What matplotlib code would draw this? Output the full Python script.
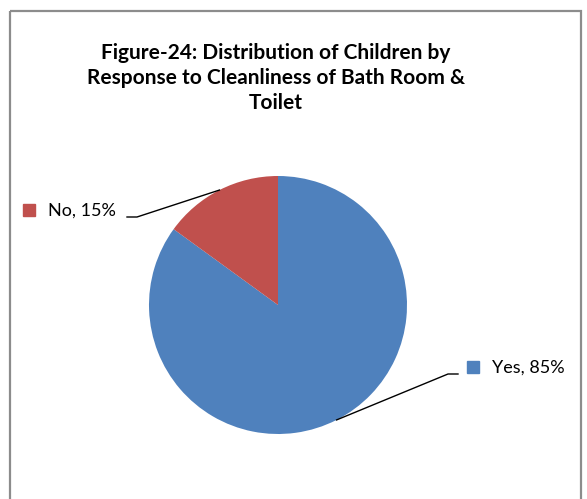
import numpy as np
import matplotlib.pyplot as plt
from matplotlib.patches import Rectangle

labels = ["Yes", "No"]
shares = [85, 15]
colors = ["#4F81BD", "#C0504D"]
title = "Figure-24: Distribution of Children by\nResponse to Cleanliness of Bath Room &\nToilet"

W, H = 587, 499
fig = plt.figure(figsize=(W / 100, H / 100), dpi=100)
ax = fig.add_axes([0, 0, 1, 1])

cx, cy, r = 278, 305, 129
# y runs downward here, so counterclock=True turns clockwise on the page
wedges, _ = ax.pie(shares, colors=colors, startangle=-90, counterclock=True,
                   center=(cx, cy), radius=r, frame=True,
                   wedgeprops=dict(linewidth=0))
ax.set_xlim(0, W)
ax.set_ylim(H, 0)
ax.set_aspect("auto")
ax.axis("off")

# chart frame (bottom edge runs off the page)
ax.add_patch(Rectangle((9.5, 11), 571.5, 520, fill=False, ec="#8c8c8c", lw=1.6))

ax.text(276, 78, title, ha="center", va="center", fontsize=15,
        fontweight="bold", family="Lato", linespacing=1.33)

# leader lines and labels: (square x, label y, line end x, elbow x)
label_pos = {"Yes": (467, 367, 458, 448), "No": (23, 210, 127, 137)}
for w, lab, val, col in zip(wedges, labels, shares, colors):
    mid = np.deg2rad((w.theta1 + w.theta2) / 2)
    ex, ey = cx + r * np.cos(mid), cy + r * np.sin(mid)
    sx, sy, lx, elbow = label_pos[lab]
    ly = sy + 7
    ax.plot([ex, elbow, lx], [ey, ly, ly], color="black", lw=1.0)
    ax.add_patch(Rectangle((sx, sy - 6), 12, 12, color=col))
    ax.text(sx + 25, sy + 1, f"{lab}, {val}%", ha="left", va="center",
            fontsize=13, family="Lato")

fig.savefig("out.png", dpi=100)
